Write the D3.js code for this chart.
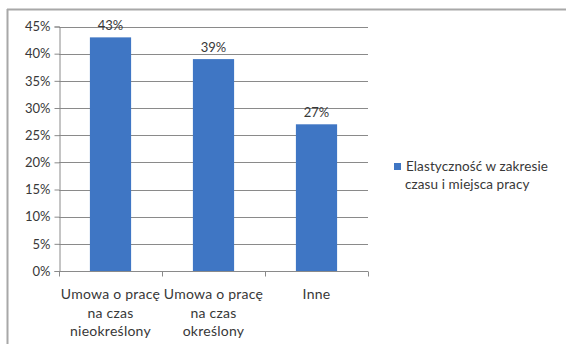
<!DOCTYPE html>
<html>
<head>
<meta charset="utf-8">
<script src="https://cdn.jsdelivr.net/npm/d3@7"></script>
<style>
  html, body { margin: 0; padding: 0; background: #fff; }
  svg { display: block; }
  text { font-family: Lato, "Open Sans", sans-serif; fill: #383838; }
</style>
</head>
<body>
<svg id="chart" width="566" height="344"></svg>
<script>
// Chart data
const categories = [
  ["Umowa o pracę", "na czas", "nieokreślony"],
  ["Umowa o pracę", "na czas", "określony"],
  ["Inne"]
];
const categoryKeys = ["nieokreslony", "okreslony", "inne"];
const values = [0.43, 0.39, 0.27];
const valueLabels = ["43%", "39%", "27%"];
const yTicks = [0, 0.05, 0.10, 0.15, 0.20, 0.25, 0.30, 0.35, 0.40, 0.45];
const seriesName = ["Elastyczność w zakresie", "czasu i miejsca pracy"];

const barColor = "#3f76c4";
const gridColor = "#8a8a8a";

const svg = d3.select("#chart");

// outer frame (left and top edges)
svg.append("line").attr("x1", 7.5).attr("x2", 7.5).attr("y1", 9).attr("y2", 344)
  .attr("stroke", "#a8a8a8").attr("stroke-width", 2);
svg.append("line").attr("x1", 7).attr("x2", 566).attr("y1", 9.5).attr("y2", 9.5)
  .attr("stroke", "#a8a8a8").attr("stroke-width", 2);

const plot = { left: 59, right: 368, top: 26.5, bottom: 271 };

const x = d3.scaleBand()
  .domain(categoryKeys)
  .range([plot.left, plot.right])
  .paddingInner(0.6)
  .paddingOuter(0.3);

const y = d3.scaleLinear()
  .domain([0, 0.45])
  .range([plot.bottom, plot.top]);

// horizontal gridlines
svg.append("g")
  .selectAll("line")
  .data(yTicks.filter(d => d > 0))
  .join("line")
  .attr("x1", plot.left)
  .attr("x2", plot.right)
  .attr("y1", d => Math.round(y(d)) + 0.5)
  .attr("y2", d => Math.round(y(d)) + 0.5)
  .attr("stroke", gridColor)
  .attr("stroke-width", 1);

// y axis
const yAxis = d3.axisLeft(y)
  .tickValues(yTicks)
  .tickFormat(d => Math.round(d * 100) + "%")
  .tickSize(5)
  .tickPadding(4);

const gy = svg.append("g")
  .attr("transform", `translate(${plot.left + 0.5},0)`)
  .call(yAxis);
gy.select(".domain").attr("stroke", gridColor);
gy.selectAll(".tick line").attr("stroke", gridColor);
gy.selectAll(".tick text")
  .attr("font-size", 13)
  .attr("fill", "#383838")
  .style("font-family", "Lato, 'Open Sans', sans-serif");

// bars
svg.append("g")
  .selectAll("rect")
  .data(values)
  .join("rect")
  .attr("x", (d, i) => x(categoryKeys[i]))
  .attr("width", x.bandwidth())
  .attr("y", d => y(d))
  .attr("height", d => y(0) - y(d))
  .attr("fill", barColor);

// value labels
svg.append("g")
  .selectAll("text")
  .data(values)
  .join("text")
  .attr("x", (d, i) => x(categoryKeys[i]) + x.bandwidth() / 2)
  .attr("y", d => y(d) - 7)
  .attr("text-anchor", "middle")
  .attr("font-size", 13)
  .text((d, i) => valueLabels[i]);

// x axis with ticks at category boundaries
const xAxisG = svg.append("g").attr("transform", `translate(0,${plot.bottom + 0.5})`);
xAxisG.append("line")
  .attr("x1", plot.left).attr("x2", plot.right)
  .attr("stroke", gridColor);
const boundaries = d3.range(categoryKeys.length + 1).map(i => plot.left + i * (plot.right - plot.left) / categoryKeys.length);
xAxisG.selectAll("line.tk")
  .data(boundaries)
  .join("line")
  .attr("class", "tk")
  .attr("x1", d => Math.round(d) + 0.5)
  .attr("x2", d => Math.round(d) + 0.5)
  .attr("y1", 0).attr("y2", 5)
  .attr("stroke", gridColor);

// category labels (multi-line)
const catG = svg.append("g");
categories.forEach((lines, i) => {
  const cx = x(categoryKeys[i]) + x.bandwidth() / 2;
  const t = catG.append("text")
    .attr("x", cx)
    .attr("y", 299)
    .attr("text-anchor", "middle")
    .attr("font-size", 14)
    .attr("letter-spacing", 0.25);
  lines.forEach((ln, j) => {
    t.append("tspan").attr("x", cx).attr("dy", j === 0 ? 0 : 18.5).text(ln);
  });
});

// legend
const legend = svg.append("g");
legend.append("rect")
  .attr("x", 394).attr("y", 163).attr("width", 7).attr("height", 7)
  .attr("fill", barColor);
const lt = legend.append("text")
  .attr("y", 171)
  .attr("font-size", 13.5)
  .attr("letter-spacing", 0.1);
seriesName.forEach((ln, j) => {
  lt.append("tspan").attr("x", j === 0 ? 406 : 405).attr("dy", j === 0 ? 0 : 18).text(ln);
});
</script>
</body>
</html>
